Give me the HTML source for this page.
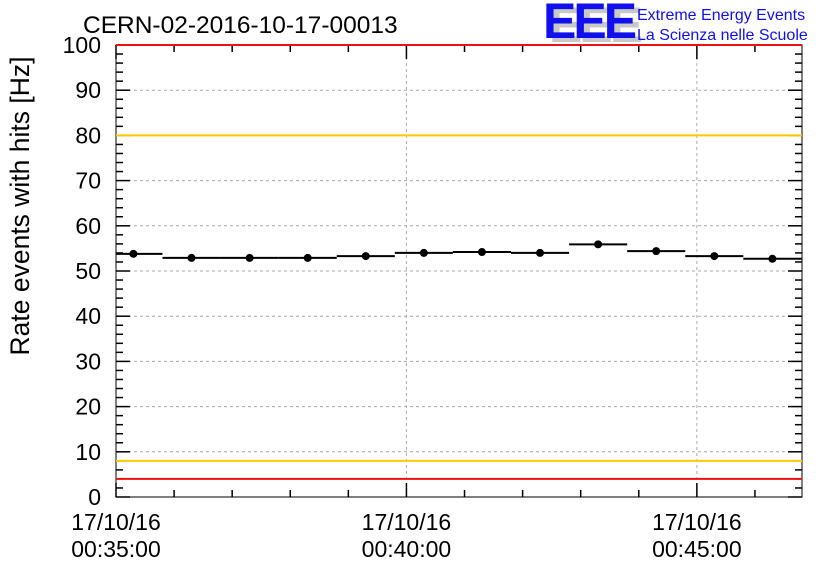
<!DOCTYPE html>
<html><head><meta charset="utf-8"><style>
body{margin:0;background:#fff;width:836px;height:572px;overflow:hidden}
svg text{font-family:"Liberation Sans",sans-serif}
</style></head><body>
<svg id="c" width="836" height="572" xmlns="http://www.w3.org/2000/svg">
<rect width="836" height="572" fill="#fff"/>
<text x="83" y="33" font-size="24.5">CERN-02-2016-10-17-00013</text>
<g>
<text x="549" y="42" font-size="50" font-weight="bold" fill="#c8c8c8" letter-spacing="-3">EEE</text>
<text x="543" y="38" font-size="50" font-weight="bold" fill="#1010ee" letter-spacing="-3">EEE</text>
<text x="637" y="20" font-size="16" fill="#1010ee">Extreme Energy Events</text>
<text x="637" y="40" font-size="16" fill="#1010ee">La Scienza nelle Scuole</text>
</g>
<text transform="translate(29,206) rotate(-90)" text-anchor="middle" font-size="26.5">Rate events with hits [Hz]</text>
<g id="grid"></g><g id="axes"></g><g id="marks"></g>
</svg>
<script>
const yTicks=[0,10,20,30,40,50,60,70,80,90,100];
const xTickSecs=[0,300,600];
const xTickLabels=[["17/10/16","00:35:00"],["17/10/16","00:40:00"],["17/10/16","00:45:00"]];
const binCentersSec=[18,78,138,198,258,318,378,438,498,558,618,678];
const rates=[53.8,52.9,52.9,52.9,53.3,54.0,54.2,54.0,55.9,54.4,53.3,52.7];
const rateErrors=[0.5,0.5,0.5,0.5,0.5,0.5,0.5,0.5,0.5,0.5,0.5,0.5];
const redLimits=[100,4];
const orangeLimits=[80,8];
const binWidthSec=60;

const L=116,R=802,T=45,B=497,xMax=708.6;
const X=s=>L+s/xMax*(R-L);
const Y=v=>B-v/100*(B-T);
const NS="http://www.w3.org/2000/svg";
function mk(parent,tag,attrs){const e=document.createElementNS(NS,tag);for(const k in attrs)e.setAttribute(k,attrs[k]);document.getElementById(parent).appendChild(e);return e;}

yTicks.forEach(v=>{if(v>0&&v<100){const g=mk('grid','line',{x1:L,x2:R,y1:Y(v),y2:Y(v),stroke:'#aaa','stroke-dasharray':'3,3'});

}});
xTickSecs.forEach(s=>{if(s>0){const g=mk('grid','line',{x1:X(s),x2:X(s),y1:T,y2:B,stroke:'#aaa','stroke-dasharray':'3,3'});

}});

const fr=mk('axes','rect',{x:L,y:T,width:R-L,height:B-T,fill:'none',stroke:'#000','stroke-width':1});



for(let v=0;v<=100;v+=2){const len=(v%10===0)?14:7;
[[L,L+len],[R,R-len]].forEach(p=>{const t=mk('axes','line',{x1:p[0],x2:p[1],y1:Y(v),y2:Y(v),stroke:'#000','stroke-width':1.5});

});}
yTicks.forEach(v=>{const t=mk('axes','text',{x:L-15,y:Y(v)+8,'text-anchor':'end','font-size':23});t.textContent=v;

});

for(let s=0;s<=xMax;s+=60){const len=(s%300===0)?14:7;
[[B,B-len],[T,T+len]].forEach(p=>{const t=mk('axes','line',{x1:X(s),x2:X(s),y1:p[0],y2:p[1],stroke:'#000','stroke-width':1.5});

});}
xTickSecs.forEach((s,i)=>{xTickLabels[i].forEach((ln,j)=>{const t=mk('axes','text',{x:X(s),y:530+j*27,'text-anchor':'middle','font-size':23});t.textContent=ln;

});});

redLimits.forEach(v=>{const l=mk('marks','line',{x1:L,x2:R,y1:Y(v),y2:Y(v),stroke:'#ee1111','stroke-width':2});

});
orangeLimits.forEach(v=>{const l=mk('marks','line',{x1:L,x2:R,y1:Y(v),y2:Y(v),stroke:'#ffc800','stroke-width':2});

});

binCentersSec.forEach((s,i)=>{
const x1=Math.max(L,X(s-binWidthSec/2)),x2=Math.min(R,X(s+binWidthSec/2)),y=Y(rates[i]);
const h=mk('marks','line',{x1:x1,x2:x2,y1:y,y2:y,stroke:'#000','stroke-width':2});


const e=mk('marks','line',{x1:X(s),x2:X(s),y1:Y(rates[i]+rateErrors[i]),y2:Y(rates[i]-rateErrors[i]),stroke:'#000','stroke-width':2});


const c=mk('marks','circle',{cx:X(s),cy:y,r:4,fill:'#000'});


});
</script>
</body></html>
